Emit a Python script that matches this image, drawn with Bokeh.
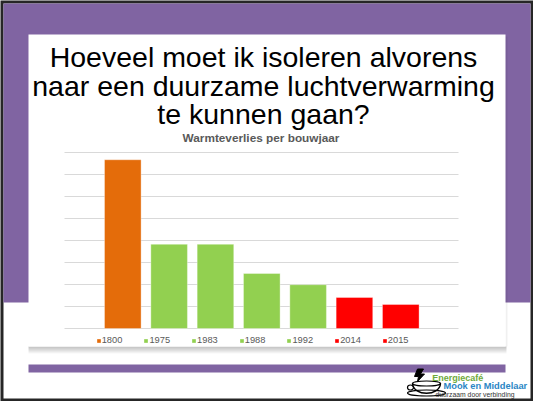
from bokeh.plotting import figure
from bokeh.models import Range1d, Legend, LegendItem
from bokeh.embed import file_html
from bokeh.resources import INLINE
from bokeh.core.properties import value

# ---- data ----
years = ["1800", "1975", "1983", "1988", "1992", "2014", "2015"]
verlies = [7.67, 3.83, 3.83, 2.50, 1.99, 1.41, 1.09]
bar_colors = ["#E46C0A", "#92D050", "#92D050", "#92D050", "#92D050", "#FF0000", "#FF0000"]
grid_vals = [0, 1, 2, 3, 4, 5, 6, 7, 8]
title_lines = ["Hoeveel moet ik isoleren alvorens",
               "naar een duurzame luchtverwarming",
               "te kunnen gaan?"]
chart_title = "Warmteverlies per bouwjaar"

# ---- layout constants (pixel space, y from top) ----
W, H = 533, 401
PURPLE = "#8064A2"
plot_left, plot_right = 64, 458
base_y, top_y = 328, 152
vmax = 8
c0, pitch, bar_w = 122.3, 46.33, 0.79

p = figure(width=W, height=H, output_backend="svg", toolbar_location=None,
           x_range=Range1d(0, W), y_range=Range1d(H, 0),
           x_axis_location=None, y_axis_location=None,
           min_border=0, outline_line_color=None,
           background_fill_color="#262626", border_fill_color="#262626")
p.grid.visible = False

scale = vmax / (base_y - top_y)
p.extra_y_ranges = {"val": Range1d(-(H - base_y) * scale, base_y * scale)}
p.extra_x_ranges = {"cat": Range1d((0 - c0) / pitch, (W - c0) / pitch)}

# slide background
p.quad(left=3, right=530, top=3, bottom=398, color="white", line_color=None)
p.quad(left=3, right=530, top=3, bottom=302, color=PURPLE, line_color=None)
# card shadow
for k in range(1, 8):
    p.quad(left=28, right=506, top=346, bottom=346 + k, color="black",
           alpha=0.035, line_color=None)
p.quad(left=505, right=507, top=36, bottom=346, color="black", alpha=0.06, line_color=None)
# white card
p.quad(left=28, right=505, top=34, bottom=346, color="white", line_color=None)
# bottom purple bar
p.quad(left=28, right=505, top=364, bottom=372, color=PURPLE, line_color=None)

# main title
p.text(x=[263, 263, 263], y=[56.7, 85.5, 113.7], text=title_lines,
       text_font=value("Liberation Sans"), text_font_size="28.5px",
       text_color="black", text_align="center", text_baseline="alphabetic")

# chart title
p.text(x=[260.5], y=[137], text=[chart_title], text_font=value("Liberation Sans"),
       text_font_size="11.8px", text_font_style="bold", text_color="#595959",
       text_align="center", text_baseline="middle")

# gridlines
p.segment(x0=plot_left, x1=plot_right, y0=grid_vals, y1=grid_vals,
          y_range_name="val", line_color="#D9D9D9", line_width=1)

# bars
idx = list(range(len(years)))
bars = p.vbar(x=idx, top=verlies, bottom=0, width=bar_w, fill_color=bar_colors,
              line_color="white", line_alpha=0.35, line_width=1,
              x_range_name="cat", y_range_name="val")

legend = Legend(items=[LegendItem(label=years[i], renderers=[bars], index=i) for i in idx],
                orientation="horizontal", location=(95.7, 56),
                glyph_width=5, glyph_height=5, label_standoff=1, spacing=21,
                padding=0, margin=0, label_height=10,
                label_text_font="Liberation Sans", label_text_font_size="9.3px",
                label_text_color="#595959", border_line_color=None,
                background_fill_alpha=0)
p.add_layout(legend)

# logo
p.bezier(x0=[412], y0=[383], x1=[440], y1=[383], cx0=[413], cy0=[396], cx1=[439], cy1=[396],
         line_color="black", line_width=1.5)
p.ellipse(x=[426], y=[383], width=28, height=5, fill_color=None, line_color="black", line_width=1.2)
p.ellipse(x=[426], y=[392.5], width=38, height=6, fill_color=None, line_color="black", line_width=1.2)
p.ellipse(x=[410], y=[387], width=6, height=5, fill_color=None, line_color="black", line_width=1.2)
p.patch(x=[417, 423, 420, 424, 417, 418, 414, 417], y=[368.5, 368.5, 373.5, 373.5, 381, 376, 376, 368.5],
        color="black")
p.text(x=[431.7], y=[377], text=["Energiecafé"], text_font=value("Liberation Sans"),
       text_font_size="9px", text_font_style="bold", text_color="#6FAA3C",
       text_baseline="middle")
p.text(x=[443], y=[385.5], text=["Mook en Middelaar"], text_font=value("Liberation Sans"),
       text_font_size="9.3px", text_font_style="bold", text_color="#2B86C5",
       text_baseline="middle")
p.text(x=[435], y=[393.5], text=["duurzaam door verbinding"], text_font=value("Liberation Sans"),
       text_font_size="6.8px", text_color="#333333", text_baseline="middle")

open("out.html", "w").write(file_html(p, INLINE))
